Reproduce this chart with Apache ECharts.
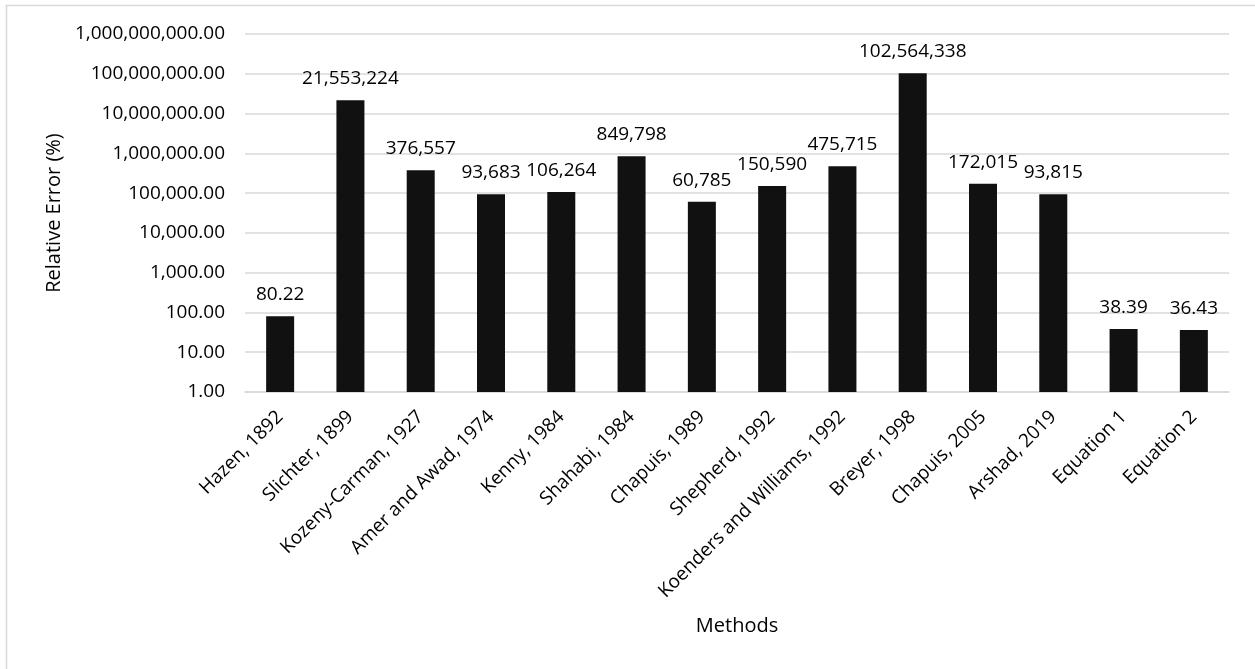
<!DOCTYPE html>
<html>
<head>
<meta charset="utf-8">
<script src="https://cdn.jsdelivr.net/npm/echarts@6/dist/echarts.min.js"></script>
<style>
  html, body { margin: 0; padding: 0; background: #ffffff; }
  #chart { width: 1255px; height: 669px; }
</style>
</head>
<body>
<div id="chart"></div>
<script>
// Methods compared and their relative error (%)
const methods = [
  'Hazen, 1892', 'Slichter, 1899', 'Kozeny-Carman, 1927', 'Amer and Awad, 1974',
  'Kenny, 1984', 'Shahabi, 1984', 'Chapuis, 1989', 'Shepherd, 1992',
  'Koenders and Williams, 1992', 'Breyer, 1998', 'Chapuis, 2005', 'Arshad, 2019',
  'Equation 1', 'Equation 2'
];
const relativeError = [
  80.22, 21553224, 376557, 93683,
  106264, 849798, 60785, 150590,
  475715, 102564338, 172015, 93815,
  38.39, 36.43
];
const yMin = 1;
const yMax = 1000000000;

const FONT = '"Open Sans", sans-serif';
const TEXT = '#000000';

function withCommas(v, decimals) {
  return v.toLocaleString('en-US', {
    minimumFractionDigits: decimals,
    maximumFractionDigits: decimals
  });
}

const chart = echarts.init(document.getElementById('chart'), null, { renderer: 'canvas' });

chart.setOption({
  backgroundColor: '#ffffff',
  animation: false,
  // chart frame (runs past the right and bottom edges)
  graphic: [{
    type: 'rect',
    shape: { x: 6.5, y: 5.5, width: 1300, height: 700 },
    style: { fill: 'none', stroke: '#d9d9d9', lineWidth: 1.5 },
    silent: true
  }],
  grid: { left: 245, right: 26, top: 34, bottom: 277 },
  xAxis: {
    type: 'category',
    data: methods,
    name: 'Methods',
    nameLocation: 'middle',
    nameGap: 224,
    nameTextStyle: { fontFamily: FONT, fontSize: 20, color: TEXT },
    axisLine: { show: true, lineStyle: { color: '#d9d9d9', width: 1.5 } },
    axisTick: { show: false },
    axisLabel: {
      rotate: 45,
      interval: 0,
      margin: 22,
      fontFamily: FONT,
      fontSize: 19,
      color: TEXT
    }
  },
  yAxis: {
    type: 'log',
    logBase: 10,
    min: yMin,
    max: yMax,
    name: 'Relative Error (%)',
    nameLocation: 'middle',
    nameGap: 178,
    nameTextStyle: { fontFamily: FONT, fontSize: 20, color: TEXT },
    axisLine: { show: false },
    axisTick: { show: false },
    splitLine: { show: true, lineStyle: { color: '#d9d9d9', width: 1.5 } },
    axisLabel: {
      margin: 20,
      fontFamily: FONT,
      fontSize: 19,
      color: TEXT,
      formatter: v => withCommas(v, 2)
    }
  },
  series: [{
    type: 'bar',
    data: relativeError,
    barWidth: 28,
    itemStyle: { color: '#111111' },
    label: {
      show: true,
      position: 'top',
      distance: 12,
      fontFamily: FONT,
      fontSize: 19,
      color: TEXT,
      formatter: p => p.value >= 1000 ? withCommas(p.value, 0) : withCommas(p.value, 2)
    }
  }]
});
</script>
</body>
</html>
